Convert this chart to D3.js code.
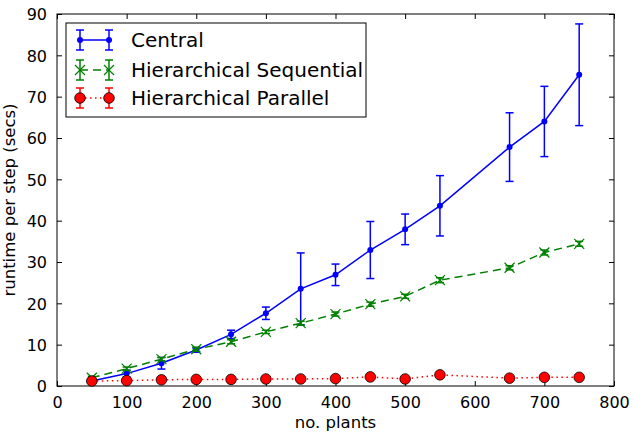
<!DOCTYPE html>
<html>
<head>
<meta charset="utf-8">
<script src="https://cdn.jsdelivr.net/npm/d3@7"></script>
<style>
  body { margin: 0; background: #fff; }
  text { font-family: "DejaVu Sans", sans-serif; fill: #000; }
</style>
</head>
<body>
<div id="chart"></div>
<script>
// data
var plants = [50, 100, 150, 200, 250, 300, 350, 400, 450, 500, 550, 650, 700, 750];

var central = [1.2, 3.0, 5.5, 8.7, 12.5, 17.6, 23.5, 26.9, 32.9, 37.9, 43.6, 57.8, 64.0, 75.3];
var centralErr = [0.4, 0.8, 1.4, 0.5, 1.0, 1.5, 8.7, 2.6, 6.9, 3.7, 7.3, 8.3, 8.5, 12.3];

var seq = [2.0, 4.2, 6.5, 8.9, 10.7, 13.1, 15.2, 17.4, 19.8, 21.7, 25.6, 28.6, 32.3, 34.4];
var seqErr = [0.3, 0.4, 0.4, 0.5, 0.5, 0.4, 0.5, 0.5, 0.5, 0.5, 0.6, 0.5, 0.6, 0.6];

var par = [1.2, 1.3, 1.5, 1.6, 1.6, 1.7, 1.7, 1.8, 2.2, 1.7, 2.7, 1.9, 2.1, 2.1];
var parErr = [0.2, 0.2, 0.2, 0.2, 0.2, 0.2, 0.2, 0.2, 0.2, 0.2, 0.2, 0.2, 0.2, 0.2];

var xTicks = [0, 100, 200, 300, 400, 500, 600, 700, 800];
var yTicks = [0, 10, 20, 30, 40, 50, 60, 70, 80, 90];
var seriesNames = ["Central", "Hierarchical Sequential", "Hierarchical Parallel"];

var margin = {top: 14, right: 19, bottom: 47, left: 57},
    width = 633 - margin.left - margin.right,
    height = 433 - margin.top - margin.bottom;

var svg = d3.select("#chart").append("svg")
    .attr("width", 633)
    .attr("height", 433)
  .append("g")
    .attr("transform", "translate(" + margin.left + "," + margin.top + ")");

var x = d3.scaleLinear().domain([0, 800]).range([0, width]);
var y = d3.scaleLinear().domain([0, 90]).range([height, 0]);

// axes with inward ticks on all four sides
function styleAxis(g) {
  g.select(".domain").remove();
  g.selectAll(".tick line").attr("stroke", "#000");
}
svg.append("g")
    .attr("transform", "translate(0," + height + ")")
    .call(d3.axisBottom(x).tickValues(xTicks).tickSizeInner(-5).tickSizeOuter(0).tickPadding(11))
    .call(styleAxis)
    .selectAll("text").style("font-size", "16px");
svg.append("g")
    .call(d3.axisTop(x).tickValues(xTicks).tickSizeInner(-5).tickSizeOuter(0).tickFormat(""))
    .call(styleAxis);
svg.append("g")
    .call(d3.axisLeft(y).tickValues(yTicks).tickSizeInner(-5).tickSizeOuter(0).tickPadding(10))
    .call(styleAxis)
    .selectAll("text").style("font-size", "16px").attr("dy", "0.36em");
svg.append("g")
    .attr("transform", "translate(" + width + ",0)")
    .call(d3.axisRight(y).tickValues(yTicks).tickSizeInner(-5).tickSizeOuter(0).tickFormat(""))
    .call(styleAxis);

svg.append("rect")
    .attr("width", width).attr("height", height)
    .attr("fill", "none").attr("stroke", "#000").attr("stroke-width", 1);

// axis labels
svg.append("text")
    .attr("x", width / 2).attr("y", height + 42)
    .attr("text-anchor", "middle")
    .style("font-size", "16.5px")
    .text("no. plants");
svg.append("text")
    .attr("transform", "translate(" + (-42) + "," + (height / 2) + ") rotate(-90)")
    .attr("text-anchor", "middle")
    .style("font-size", "16.5px")
    .text("runtime per step (secs)");

var plot = svg.append("g");

function errorBars(vals, errs, color, cap) {
  var g = plot.append("g").attr("stroke", color).attr("stroke-width", 1.5);
  plants.forEach(function(p, i) {
    var x0 = x(p), lo = y(vals[i] - errs[i]), hi = y(vals[i] + errs[i]);
    g.append("line").attr("x1", x0).attr("x2", x0).attr("y1", lo).attr("y2", hi);
    g.append("line").attr("x1", x0 - cap).attr("x2", x0 + cap).attr("y1", lo).attr("y2", lo);
    g.append("line").attr("x1", x0 - cap).attr("x2", x0 + cap).attr("y1", hi).attr("y2", hi);
  });
}

function seriesLine(vals, color, dash) {
  var line = d3.line()
      .x(function(d, i) { return x(plants[i]); })
      .y(function(d) { return y(d); });
  plot.append("path")
      .datum(vals)
      .attr("fill", "none")
      .attr("stroke", color)
      .attr("stroke-width", 1.5)
      .attr("stroke-dasharray", dash)
      .attr("d", line);
}

function crossMark(g, cx, cy, s, color) {
  g.append("path")
      .attr("d", "M" + (cx - s) + "," + (cy - s) + "L" + (cx + s) + "," + (cy + s) +
                 "M" + (cx - s) + "," + (cy + s) + "L" + (cx + s) + "," + (cy - s))
      .attr("stroke", color).attr("stroke-width", 1.2).attr("fill", "none");
}

// Central
errorBars(central, centralErr, "#0000ff", 4);
seriesLine(central, "#0000ff", null);
plot.append("g").selectAll("circle").data(central).enter().append("circle")
    .attr("cx", function(d, i) { return x(plants[i]); })
    .attr("cy", function(d) { return y(d); })
    .attr("r", 3).attr("fill", "#0000ff");

// Hierarchical Sequential
errorBars(seq, seqErr, "#008000", 4);
seriesLine(seq, "#008000", "8,5");
var gx = plot.append("g");
seq.forEach(function(d, i) { crossMark(gx, x(plants[i]), y(d), 5, "#008000"); });

// Hierarchical Parallel
errorBars(par, parErr, "#ff0000", 4);
seriesLine(par, "#ff0000", "1.5,3.5");
plot.append("g").selectAll("circle").data(par).enter().append("circle")
    .attr("cx", function(d, i) { return x(plants[i]); })
    .attr("cy", function(d) { return y(d); })
    .attr("r", 5.3).attr("fill", "#ff0000").attr("stroke", "#000").attr("stroke-width", 0.8);

// legend
var legend = svg.append("g").attr("transform", "translate(" + (66 - margin.left) + "," + (23 - margin.top) + ")");
legend.append("rect")
    .attr("width", 300).attr("height", 94)
    .attr("fill", "#fff").attr("stroke", "#000").attr("stroke-width", 1);

var rowY = [17, 47, 75];
var colors = ["#0000ff", "#008000", "#ff0000"];
var dashes = [null, "8,5", "1.5,3.5"];
seriesNames.forEach(function(name, k) {
  var g = legend.append("g").attr("transform", "translate(0," + rowY[k] + ")");
  var xs = [14, 43];
  g.append("line").attr("x1", xs[0]).attr("x2", xs[1]).attr("y1", 0).attr("y2", 0)
      .attr("stroke", colors[k]).attr("stroke-width", 1.5).attr("stroke-dasharray", dashes[k]);
  xs.forEach(function(xx) {
    g.append("line").attr("x1", xx).attr("x2", xx).attr("y1", -10).attr("y2", 10)
        .attr("stroke", colors[k]).attr("stroke-width", 1.5);
    g.append("line").attr("x1", xx - 4).attr("x2", xx + 4).attr("y1", -10).attr("y2", -10)
        .attr("stroke", colors[k]).attr("stroke-width", 1.5);
    g.append("line").attr("x1", xx - 4).attr("x2", xx + 4).attr("y1", 10).attr("y2", 10)
        .attr("stroke", colors[k]).attr("stroke-width", 1.5);
    if (k == 0) g.append("circle").attr("cx", xx).attr("cy", 0).attr("r", 3).attr("fill", colors[k]);
    if (k == 1) crossMark(g, xx, 0, 5, colors[k]);
    if (k == 2) g.append("circle").attr("cx", xx).attr("cy", 0).attr("r", 5.3)
        .attr("fill", colors[k]).attr("stroke", "#000").attr("stroke-width", 0.8);
  });
  g.append("text")
      .attr("x", 65).attr("y", 0).attr("dy", "0.36em")
      .style("font-size", "20px")
      .text(name);
});
</script>
</body>
</html>
